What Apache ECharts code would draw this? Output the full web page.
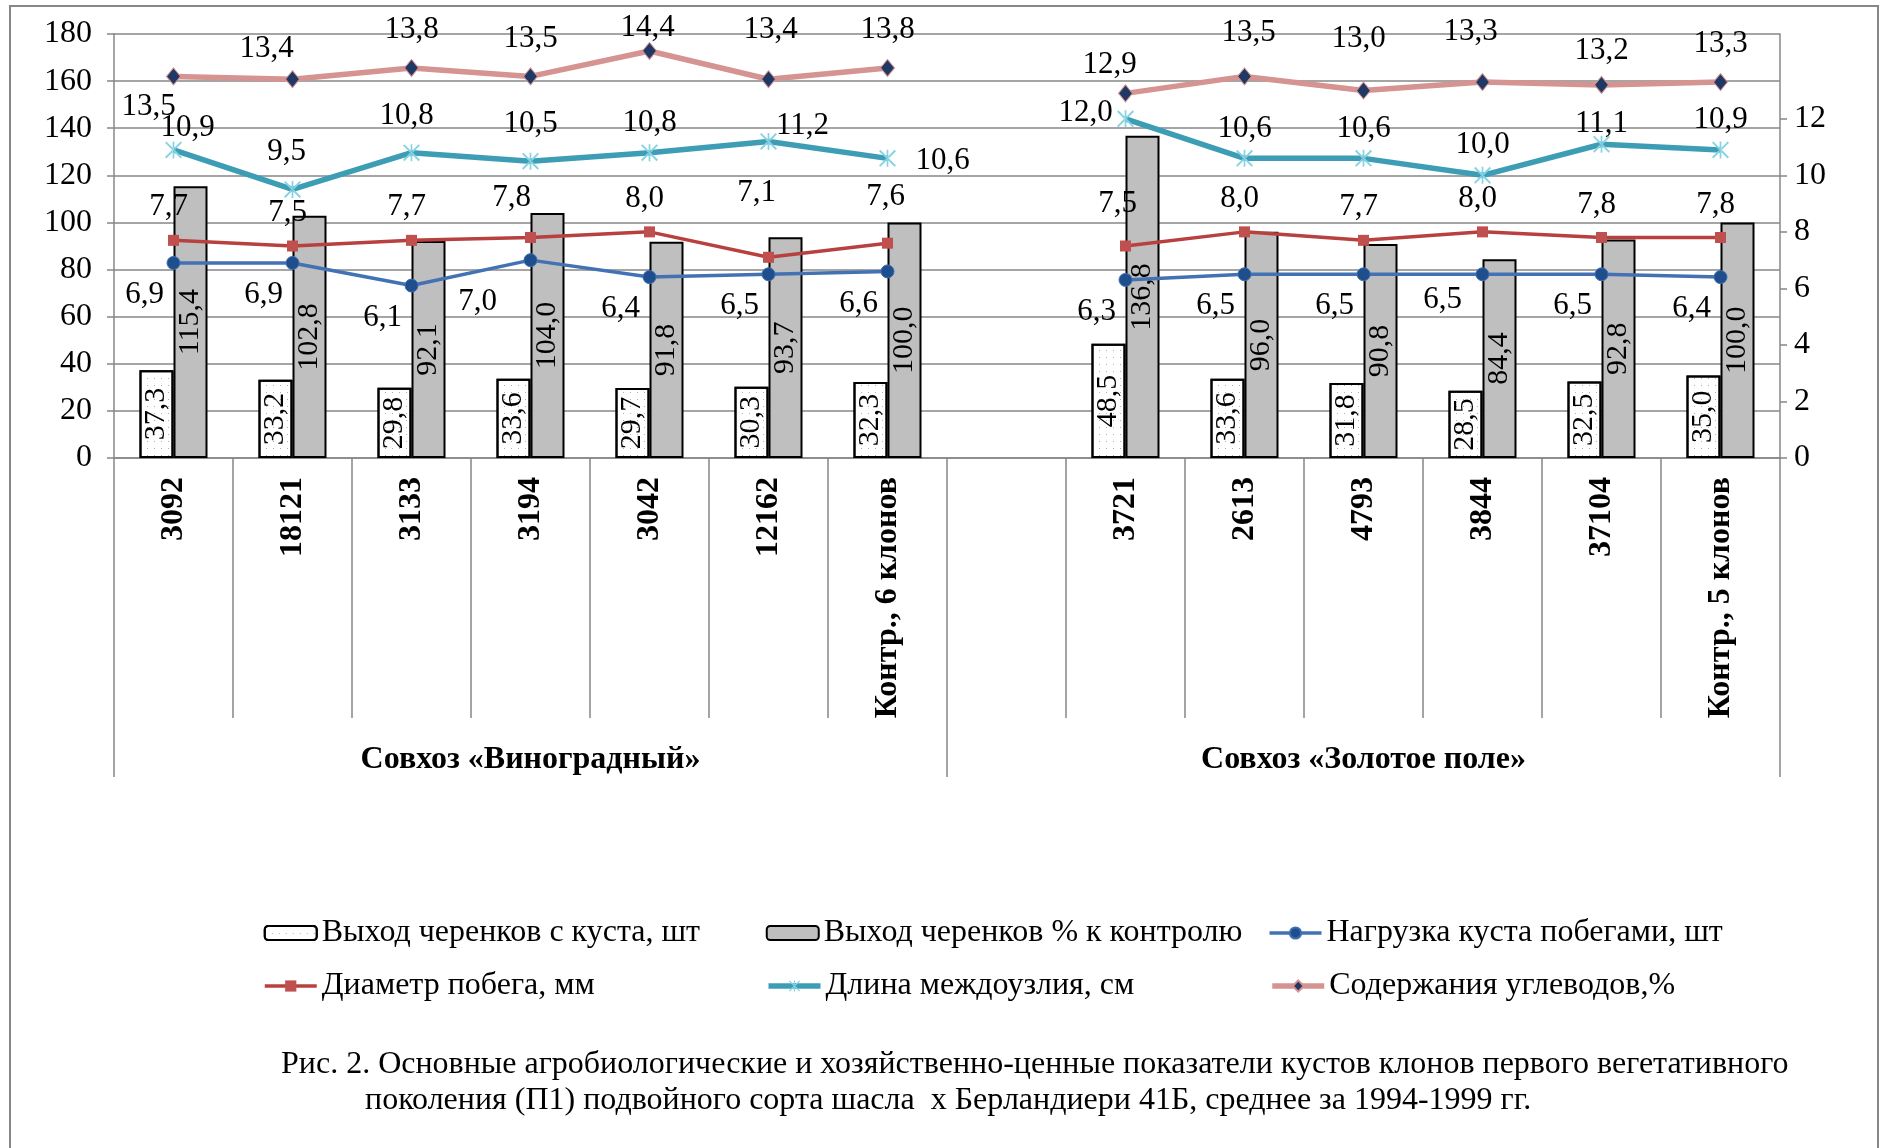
<!DOCTYPE html>
<html><head><meta charset="utf-8">
<script src="https://cdn.jsdelivr.net/npm/echarts@6/dist/echarts.min.js"></script>
<style>html,body{margin:0;padding:0;background:#fff}#c{width:1883px;height:1148px}</style>
</head><body><div id="c"></div>
<script>
// ---- data ----
const categories = ['3092','18121','3133','3194','3042','12162','Контр., 6 клонов','','3721','2613','4793','3844','37104','Контр., 5 клонов'];
const groups = ['Совхоз «Виноградный»','Совхоз «Золотое поле»'];
const cuttingsPerBush   = [37.3,33.2,29.8,33.6,29.7,30.3,32.3,null,48.5,33.6,31.8,28.5,32.5,35.0];
const cuttingsPctCtrl   = [115.4,102.8,92.1,104.0,91.8,93.7,100.0,null,136.8,96.0,90.8,84.4,92.8,100.0];
const shootLoad         = [6.9,6.9,6.1,7.0,6.4,6.5,6.6,null,6.3,6.5,6.5,6.5,6.5,6.4];
const shootDiameter     = [7.7,7.5,7.7,7.8,8.0,7.1,7.6,null,7.5,8.0,7.7,8.0,7.8,7.8];
const internodeLength   = [10.9,9.5,10.8,10.5,10.8,11.2,10.6,null,12.0,10.6,10.6,10.0,11.1,10.9];
const carbohydrates     = [13.5,13.4,13.8,13.5,14.4,13.4,13.8,null,12.9,13.5,13.0,13.3,13.2,13.3];
const leftTicks  = [0,20,40,60,80,100,120,140,160,180];
const rightTicks = [0,2,4,6,8,10,12,14];
const seriesNames = ['Выход черенков с куста, шт','Выход черенков % к контролю','Нагрузка куста побегами, шт',
                     'Диаметр побега, мм','Длина междоузлия, см','Содержания углеводов,%'];
const caption = ['Рис. 2. Основные агробиологические и хозяйственно-ценные показатели кустов клонов первого вегетативного',
                 'поколения (П1) подвойного сорта шасла  х Берландиери 41Б, среднее за 1994-1999 гг.'];

// ---- label placement (styling only) ----
const labelPlacement = {
  load:  {base: [-29, 32], special: {3: [-53, 42], 11: [-40, 26]}},
  diam:  {base: [-5, -33], special: {3: [-19, -40], 5: [-12, -64], 6: [-2, -46], 8: [-8, -42]}},
  inter: {base: [0, -30],  special: {0: [14, -22], 1: [-6, -38], 2: [-5, -37], 3: [0, -37], 5: [34, -16], 6: [55, 2], 8: [-40, -6], 12: [0, -20]}},
  carb:  {base: [0, -38],  special: {0: [-25, 30], 1: [-26, -30], 4: [-2, -23], 5: [2, -49], 8: [-16, -29], 9: [4, -44], 10: [-5, -52], 11: [-12, -50], 12: [0, -34]}}
};

const FONT = 'Liberation Serif';
const fmt = v => (v == null ? '' : v.toFixed(1).replace('.', ','));
const GRAY = '#878787';

function lineData(values, key) {
  const p = labelPlacement[key];
  return values.map((v, i) => v == null ? null : ({
    value: v,
    label: {offset: (p.special[i] || p.base)}
  }));
}

const asterisk = 'path://M9,0L11,0L11,20L9,20Z M0,1.6L1.6,0L20,18.4L18.4,20Z M20,1.6L18.4,0L0,18.4L1.6,20Z';

const lineLabel = {show: true, position: 'inside', formatter: p => fmt(p.value),
  fontFamily: FONT, fontSize: 31, color: '#000'};
const barLabel = {show: true, position: 'inside', rotate: 90, formatter: p => fmt(p.value),
  fontFamily: FONT, fontSize: 30, color: '#000'};

const styles = {
  load:  {line: {color: '#4272b4', width: 3.5}, item: {color: '#1f4e8c', borderColor: '#3f6fb0', borderWidth: 1}},
  diam:  {line: {color: '#b8413f', width: 3.5}, item: {color: '#c0504d'}},
  inter: {line: {color: '#3d9db5', width: 5.5}, item: {color: '#86d3e3'}},
  carb:  {line: {color: '#d59391', width: 5.5}, item: {color: '#1f3864', borderColor: '#d59391', borderWidth: 1}}
};
const styleKeys = [null, null, 'load', 'diam', 'inter', 'carb'];

const option = {
  animation: false,
  backgroundColor: '#fff',
  graphic: [{type: 'rect', shape: {x: 10, y: 6, width: 1868, height: 1170},
    style: {fill: 'none', stroke: GRAY, lineWidth: 2}, silent: true}],
  title: [
    {text: caption[0], left: 281, top: 1049, padding: 0,
     textStyle: {fontFamily: FONT, fontSize: 32, fontWeight: 'normal', color: '#000'}},
    {text: caption[1], left: 365, top: 1085, padding: 0,
     textStyle: {fontFamily: FONT, fontSize: 32, fontWeight: 'normal', color: '#000'}}
  ],
  legend: {
    left: 263, top: 916, width: 1520, padding: 0,
    itemWidth: 52, itemHeight: 14, itemGap: 19,
    data: seriesNames.map((n, i) => styleKeys[i]
      ? {name: n, lineStyle: {width: styles[styleKeys[i]].line.width, color: styles[styleKeys[i]].line.color}}
      : {name: n}),
    textStyle: {fontFamily: FONT, fontSize: 32, color: '#000', width: 425, overflow: 'none', lineHeight: 34}
  },
  grid: {left: 114, right: 103, top: 34, bottom: 690, containLabel: false},
  xAxis: [
    {type: 'category', data: categories, position: 'bottom', boundaryGap: true,
     axisLine: {show: true, lineStyle: {color: GRAY, width: 1.5}},
     axisTick: {show: true, interval: 0, length: 260, lineStyle: {color: GRAY, width: 1.5}},
     axisLabel: {interval: 0, rotate: 90, margin: 19, fontFamily: FONT, fontWeight: 'bold', fontSize: 32, color: '#000'},
     splitLine: {show: false}},
    {type: 'category', data: groups, position: 'bottom', boundaryGap: true,
     axisLine: {show: false},
     axisTick: {show: true, interval: 0, length: 319, lineStyle: {color: GRAY, width: 1.5}},
     axisLabel: {interval: 0, margin: 286, fontFamily: FONT, fontWeight: 'bold', fontSize: 32, color: '#000'},
     splitLine: {show: false}}
  ],
  yAxis: [
    {type: 'value', min: leftTicks[0], max: leftTicks[leftTicks.length - 1], interval: 20, position: 'left',
     axisLine: {show: true, lineStyle: {color: GRAY, width: 1.5}},
     axisTick: {show: true, length: 7, lineStyle: {color: GRAY, width: 1.5}},
     axisLabel: {margin: 22, fontFamily: FONT, fontSize: 32, color: '#000'},
     splitLine: {show: true, lineStyle: {color: GRAY, width: 1.5}}},
    {type: 'value', min: 0, max: 15, interval: 2, position: 'right',
     axisLine: {show: true, lineStyle: {color: GRAY, width: 1.5}},
     axisTick: {show: true, length: 7, customValues: rightTicks, lineStyle: {color: GRAY, width: 1.5}},
     axisLabel: {margin: 14, showMaxLabel: false, customValues: rightTicks, fontFamily: FONT, fontSize: 32, color: '#000'},
     splitLine: {show: false}}
  ],
  series: [
    {name: seriesNames[0], type: 'bar', data: cuttingsPerBush, barWidth: 34, barGap: '0%', z: 2,
     itemStyle: {color: '#ffffff', borderColor: '#000', borderWidth: 2,
       decal: {symbol: 'rect', symbolSize: 1, dashArrayX: [1, 6], dashArrayY: [1, 6], color: 'rgba(110,110,110,0.55)'}},
     label: barLabel},
    {name: seriesNames[1], type: 'bar', data: cuttingsPctCtrl, barWidth: 34, barGap: '0%', z: 2,
     itemStyle: {color: '#bfbfbf', borderColor: '#000', borderWidth: 2},
     label: barLabel},
    {name: seriesNames[2], type: 'line', yAxisIndex: 1, data: lineData(shootLoad, 'load'), connectNulls: false, z: 5,
     symbol: 'circle', symbolSize: 13,
     lineStyle: styles.load.line, itemStyle: styles.load.item, label: lineLabel},
    {name: seriesNames[3], type: 'line', yAxisIndex: 1, data: lineData(shootDiameter, 'diam'), connectNulls: false, z: 5,
     symbol: 'rect', symbolSize: 11,
     lineStyle: styles.diam.line, itemStyle: styles.diam.item, label: lineLabel},
    {name: seriesNames[4], type: 'line', yAxisIndex: 1, data: lineData(internodeLength, 'inter'), connectNulls: false, z: 5,
     symbol: asterisk, symbolSize: 17,
     lineStyle: styles.inter.line, itemStyle: styles.inter.item, label: lineLabel},
    {name: seriesNames[5], type: 'line', yAxisIndex: 1, data: lineData(carbohydrates, 'carb'), connectNulls: false, z: 5,
     symbol: 'diamond', symbolSize: [14, 17],
     lineStyle: styles.carb.line, itemStyle: styles.carb.item, label: lineLabel}
  ]
};

const chart = echarts.init(document.getElementById('c'), null, {renderer: 'canvas'});
chart.setOption(option);
</script>
</body></html>
